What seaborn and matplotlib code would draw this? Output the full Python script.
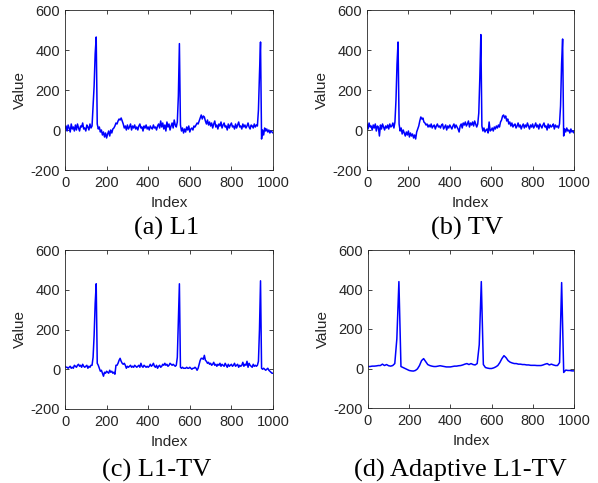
import numpy as np
import pandas as pd
import seaborn as sns
import matplotlib.pyplot as plt

# sample positions (every 5 samples for the noisy panels, every 10 for the smooth one)
idx5 = list(range(0, 1001, 5))
idx10 = list(range(0, 1001, 10))

sig_l1 = [
    5, 20, -5, 25, 10, -10, 30, 5, 15, -5,
    25, 0, 30, 10, -5, 20, 15, 35, 5, 10,
    -5, 25, 15, 0, 30, 10, 20, 125, 220, 380,
    465, 30, 5, 15, -10, 0, -25, -10, -35, -15,
    -40, -20, -5, -30, 0, -15, 5, 10, 20, 35,
    30, 45, 55, 50, 60, 45, 30, 10, 20, 0,
    25, 5, 15, 30, 0, 20, 10, 25, 5, 15,
    0, 20, 30, 10, 15, -5, 20, 10, 25, 5,
    15, 0, 20, 10, 5, 25, 10, 15, 0, 20,
    30, 10, 45, 15, 35, 5, 25, -5, 40, 15,
    30, 0, 20, 35, 10, 50, 25, 15, 40, 170,
    432, 25, -5, 10, -15, 5, -10, 15, 0, 20,
    -10, 5, 10, 0, 20, 15, 25, 35, 30, 45,
    60, 75, 55, 70, 65, 45, 30, 50, 25, 40,
    20, 35, 10, 30, 45, 15, 25, 5, 30, 20,
    40, 10, 25, 35, 15, 20, 0, 30, 10, 25,
    35, 15, 20, 5, 30, 10, 25, 40, 15, 20,
    5, 30, 15, 25, 10, 20, 35, 15, 5, 25,
    20, 10, 30, 15, 25, 20, 100, 280, 440, -45,
    0, -25, 10, -5, 5, -10, 0, -15, -5, -10,
    -15,
]

sig_tv = [
    30, 5, 35, 15, 20, 0, 25, 10, 30, -5,
    20, 15, -30, 25, 5, 30, 15, 0, 20, 10,
    25, 5, 30, 15, 20, 35, 10, 40, 150, 330,
    440, 30, -5, 10, -20, 0, -15, -30, -10, -25,
    -5, -35, -15, -30, -20, -40, -25, -45, -10, 5,
    20, 45, 65, 55, 60, 40, 35, 25, 30, 15,
    25, 15, 30, 10, 20, 25, 5, 20, 30, 15,
    20, 10, 25, 30, 5, 15, 25, 0, 20, 10,
    25, 15, 5, 20, 30, 10, 25, 15, 5, -10,
    20, 30, 10, 35, 25, 40, 20, 30, 45, 15,
    35, 25, 40, 20, 45, 30, 15, 30, 85, 260,
    477, 20, -5, 10, -10, 0, 5, -15, 40, -5,
    0, 10, -5, 15, 5, 20, 10, 25, 15, 40,
    50, 70, 75, 60, 70, 45, 55, 30, 40, 20,
    35, 15, 25, 30, 10, 20, 35, 15, 25, 5,
    20, 30, 10, 25, 15, 35, 20, 5, 25, 15,
    30, 10, 20, 35, 15, 25, 5, 30, 20, 10,
    25, 35, 15, 20, 0, 30, 10, 25, 15, 20,
    30, 5, 25, 15, 20, 10, 30, 120, 330, 455,
    -30, 5, -10, 10, -5, 0, -15, 5, -10, -5,
    -15,
]

sig_l1tv = [
    15, 10, 10, 5, 10, 15, 5, 10, 5, 20,
    15, 10, 20, 25, 15, 20, 10, 25, 15, 10,
    15, 20, 5, 15, 10, 20, 20, 60, 170, 330,
    430, 30, 20, 5, -10, -5, -20, -35, -15, -20,
    -10, -15, -20, -5, -15, -10, -20, -15, -25, 20,
    20, 30, 45, 55, 40, 30, 25, 30, 20, 5,
    15, 10, 15, 20, 10, 15, 10, 20, 15, 10,
    15, 20, 10, 30, 15, 10, 20, 15, 10, 15,
    10, 15, 25, 15, 20, 30, 15, 10, 20, 5,
    15, 20, 10, 15, 25, 20, 30, 20, 25, 15,
    20, 30, 25, 20, 25, 20, 15, 20, 60, 250,
    430, 10, 5, 10, 5, 5, 5, 10, 5, 5,
    10, 5, 0, 5, 5, 10, 5, -5, 5, 25,
    45, 55, 55, 50, 70, 45, 40, 30, 35, 25,
    30, 20, 25, 35, 20, 25, 15, 25, 20, 30,
    15, 25, 20, 15, 30, 20, 10, 25, 15, 20,
    25, 15, 20, 30, 15, 20, 25, 10, 20, 15,
    20, 35, 15, 25, 20, 40, 10, 30, 20, 15,
    10, 25, 15, 20, 15, 20, 40, 200, 445, 5,
    0, 5, 0, -5, 0, 5, -5, -10, -15, -20,
    -20,
]

sig_adaptive = [
    10, 10, 12, 12, 13, 15, 15, 22, 15, 20,
    14, 12, 15, 25, 150, 440, 10, 5, 0, -5,
    -10, -12, -13, -10, -2, 15, 40, 50, 35, 20,
    15, 12, 10, 10, 12, 14, 12, 10, 8, 8,
    8, 10, 12, 12, 14, 15, 18, 22, 25, 20,
    25, 20, 18, 25, 120, 440, 20, 5, 2, 0,
    0, 3, 8, 15, 30, 50, 65, 55, 40, 32,
    28, 25, 25, 22, 22, 20, 20, 18, 18, 16,
    16, 16, 15, 15, 15, 18, 22, 25, 18, 22,
    18, 15, 15, 30, 435, -20, -8, -10, -10, -12,
    -12,
]

captions = ["(a) L1", "(b) TV", "(c) L1-TV", "(d) Adaptive L1-TV"]
panels = [(idx5, sig_l1), (idx5, sig_tv), (idx5, sig_l1tv), (idx10, sig_adaptive)]

sns.set_style("white")
plt.rcParams["font.family"] = ["Liberation Sans", "DejaVu Sans"]
plt.rcParams["axes.unicode_minus"] = False

W, H = 598, 483
fig = plt.figure(figsize=(W / 100, H / 100), dpi=100)

# axes boxes in pixels: left, top, right, bottom
boxes = [(65, 10, 273, 170), (367, 10, 574, 170), (65, 250, 273, 409), (368, 250, 574, 408)]
cap_pos = [(167, 228), (467, 228), (157, 470), (460, 470)]

ink = "#262626"
for (x, y), (l, t, r, b), cap, (cx, cy) in zip(panels, boxes, captions, cap_pos):
    ax = fig.add_axes([l / W, 1 - b / H, (r - l) / W, (b - t) / H])
    df = pd.DataFrame({"Index": x, "Value": y})
    sns.lineplot(data=df, x="Index", y="Value", ax=ax, color="#0000ff", lw=1.1)
    ax.set_xlim(0, 1000)
    ax.set_ylim(-200, 600)
    ax.set_xticks(range(0, 1001, 200))
    ax.set_yticks(range(-200, 601, 200))
    ax.tick_params(direction="in", length=3, width=0.6, bottom=True, left=True,
                   top=True, right=True, labelsize=10.5, colors=ink)
    ax.tick_params(axis="x", pad=4.5)
    ax.tick_params(axis="y", pad=3.5)
    for s in ax.spines.values():
        s.set_color(ink)
        s.set_linewidth(0.6)
    ax.set_xlabel("Index", fontsize=11, color=ink, labelpad=4)
    ax.set_ylabel("Value", fontsize=11, color=ink, labelpad=3)
    fig.text(cx / W, 1 - cy / H, cap, ha="center", va="center",
             fontsize=19, family="Liberation Serif", color="black")

fig.savefig("out.png", dpi=100)
